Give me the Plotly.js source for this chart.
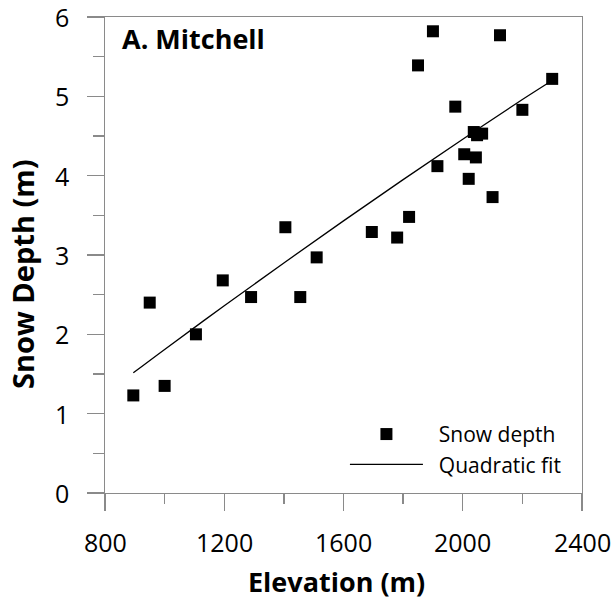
<!DOCTYPE html>
<html>
<head>
<meta charset="utf-8">
<script src="https://cdn.plot.ly/plotly-3.0.1.min.js"></script>
<style>html,body{margin:0;padding:0;background:#fff}#chart{width:614px;height:601px}</style>
</head>
<body>
<div id="chart"></div>
<script>
// Observed snow depth vs elevation (Mitchell)
var elevation = [895, 950, 1000, 1105, 1195, 1290, 1405, 1455, 1510, 1695, 1780, 1820, 1850, 1900, 1915, 1975, 2005, 2020, 2037, 2044, 2048, 2065, 2100, 2125, 2200, 2300];
var snowDepth = [1.23, 2.40, 1.35, 2.00, 2.68, 2.47, 3.35, 2.47, 2.97, 3.29, 3.22, 3.48, 5.39, 5.82, 4.12, 4.87, 4.27, 3.96, 4.55, 4.23, 4.51, 4.53, 3.73, 5.77, 4.83, 5.22];
// Quadratic fit curve
var fitElevation = [895, 1000, 1200, 1400, 1600, 1800, 2000, 2200, 2300];
var fitDepth = [1.515, 1.81, 2.36, 2.90, 3.43, 3.95, 4.46, 4.96, 5.20];
var xTicks = [800, 1200, 1600, 2000, 2400];
var yTicks = [0, 1, 2, 3, 4, 5, 6];
var panelLabel = 'A. Mitchell';
var xTitle = 'Elevation (m)';
var yTitle = 'Snow Depth (m)';

var axisGray = '#8a8a8a';
var tickFont = {family: 'Open Sans, sans-serif', size: 25, color: '#000'};
var titleFont = {family: 'Open Sans, sans-serif', size: 27, color: '#000', weight: 'bold'};
var nb = '\u00a0\u00a0';

var traces = [
  {x: elevation, y: snowDepth, type: 'scatter', mode: 'markers', name: nb + 'Snow depth',
   marker: {symbol: 'square', size: 12, color: '#000'}},
  {x: fitElevation, y: fitDepth, type: 'scatter', mode: 'lines', name: nb + 'Quadratic fit',
   line: {color: '#000', width: 1.3, shape: 'spline'}}
];

var annotations = [
  {text: panelLabel, xref: 'paper', yref: 'paper', x: 0.031, y: 0.997, xanchor: 'left', yanchor: 'top',
   showarrow: false, font: titleFont},
  {text: xTitle, xref: 'paper', yref: 'paper', x: (336 - 105) / 477, y: -(581 - 493) / 476,
   xanchor: 'center', yanchor: 'middle', showarrow: false, font: titleFont},
  {text: yTitle, xref: 'paper', yref: 'paper', x: (22 - 105) / 477, y: (493 - 274) / 476,
   xanchor: 'center', yanchor: 'middle', textangle: -90, showarrow: false,
   font: {family: 'Open Sans, sans-serif', size: 29, color: '#000', weight: 'bold'}}
];
xTicks.forEach(function (v) {
  annotations.push({text: String(v), xref: 'x', yref: 'paper', x: v, y: -(542 - 493) / 476,
    xanchor: 'center', yanchor: 'middle', showarrow: false, font: tickFont});
});
yTicks.forEach(function (v) {
  annotations.push({text: String(v), xref: 'paper', yref: 'y', x: (71 - 105) / 477, y: v,
    xanchor: 'right', yanchor: 'middle', showarrow: false, font: tickFont});
});

var layout = {
  width: 614, height: 601,
  margin: {l: 105, r: 32, t: 17, b: 108},
  paper_bgcolor: '#fff', plot_bgcolor: '#fff',
  showlegend: true,
  legend: {x: 0.503, xanchor: 'left', y: 0.017, yanchor: 'bottom', bgcolor: 'rgba(0,0,0,0)',
    font: {family: 'Open Sans, sans-serif', size: 21, color: '#000'}, itemwidth: 73, tracegroupgap: 0},
  xaxis: {
    range: [800, 2400], tickvals: xTicks, showticklabels: false,
    showgrid: false, zeroline: false, showline: true, mirror: true, linecolor: axisGray, linewidth: 1.3,
    ticks: 'outside', ticklen: 17, tickcolor: axisGray, tickwidth: 1.3,
    minor: {dtick: 200, tick0: 800, ticks: 'outside', ticklen: 10, tickcolor: axisGray, tickwidth: 1.3}
  },
  yaxis: {
    range: [0, 6], tickvals: yTicks, showticklabels: false,
    showgrid: false, zeroline: false, showline: true, mirror: true, linecolor: axisGray, linewidth: 1.3,
    ticks: 'outside', ticklen: 17, tickcolor: axisGray, tickwidth: 1.3,
    minor: {dtick: 0.5, tick0: 0, ticks: 'outside', ticklen: 11, tickcolor: axisGray, tickwidth: 1.3}
  },
  annotations: annotations
};

Plotly.newPlot('chart', traces, layout, {displayModeBar: false, staticPlot: true});
</script>
</body>
</html>
